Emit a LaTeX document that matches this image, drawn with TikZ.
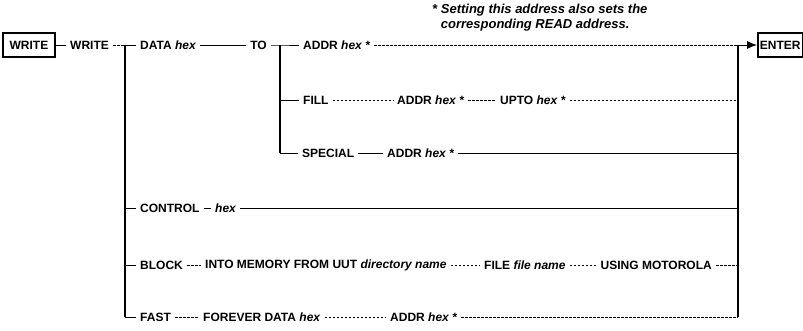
\documentclass[tikz,border=0pt]{standalone}
\usepackage{fontspec}
\setmainfont{Liberation Sans}
\usetikzlibrary{arrows.meta,positioning}

\begin{document}
\begin{tikzpicture}[
  x=1pt, y=-1pt,
  font={\fontsize{12}{14}\selectfont\bfseries},
  word/.style={inner xsep=4pt, inner ysep=1pt, anchor=west},
  keybox/.style={draw, line width=1.8pt, inner xsep=3pt, minimum height=24pt},
  rule/.style={line width=0.9pt},
  dotrule/.style={line width=0.9pt, dash pattern=on 2.5pt off 1.5pt},
  rail/.style={line width=1.8pt},
]
\useasboundingbox (0,0) rectangle (803,331);
\node[keybox, minimum width=52pt] (wbox) at (29,45) {WRITE};
\node[word] (wtxt) at (66,45) {WRITE};
\coordinate (ja) at (125,45);
\node[word] (data) at (136,45) {DATA \textit{hex}};
\node[word, anchor=east] (to) at (271,45) {TO};
\coordinate (jb) at (280,45);
\node[word] (addra) at (299,45) {ADDR \textit{hex} *};
\coordinate (jc) at (738,45);
\node[keybox, inner xsep=2pt, anchor=west] (enter) at (757,45) {ENTER};
\node[word, anchor=north west, align=left, font={\fontsize{13}{15}\selectfont\bfseries\itshape}] (note) at (428,3)
  {* Setting this address also sets the\\\hphantom{* }corresponding READ address.};

\node[word] (fill) at (299,100) {FILL};
\node[word] (addrb) at (393,100) {ADDR \textit{hex} *};
\node[word] (upto) at (496,100) {UPTO \textit{hex} *};

\node[word] (special) at (298,153) {SPECIAL};
\node[word] (addrc) at (383,153) {ADDR \textit{hex} *};

\node[word] (control) at (136,208) {CONTROL};
\node[word] (hexd) at (211,208) {\textit{hex}};

\node[word] (block) at (136,265) {BLOCK};
\node[word] (into) at (201,265) {INTO MEMORY FROM UUT \textit{directory name}};
\node[word] (file) at (480,265) {FILE \textit{file name}};
\node[word, anchor=east] (using) at (716,265) {USING MOTOROLA};

\node[word] (fast) at (136,317) {FAST};
\node[word] (forever) at (199,317) {FOREVER DATA \textit{hex}};
\node[word] (addre) at (386,317) {ADDR \textit{hex} *};

\draw[rule] (wbox) -- (wtxt);
\draw[dotrule] (wtxt) -- (ja);
\draw[rule] (ja) -- (data);
\draw[rule] (data) -- (to);
\draw[rule] (to) -- (jb) -- (addra);
\draw[dotrule] (addra) -- (jc);
\draw[rule, -{Latex[length=10pt,width=8pt]}] (jc) -- (enter);

\draw[rail] (ja) -- (ja |- fast);
\draw[rule] (ja |- control) -- (control);
\draw[rule] (ja |- block) -- (block);
\draw[rule] (ja |- fast) -- (fast);

\draw[rail] (jb) -- (jb |- special);
\draw[rule] (jb |- fill) -- (fill);
\draw[rule] (jb |- special) -- (special);

\draw[rail] (jc) -- (jc |- fast);

\draw[dotrule] (fill) -- (addrb) -- (upto) -- (upto -| jc);
\draw[rule] (special) -- (addrc) -- (addrc -| jc);
\draw[rule] (control) -- (hexd) -- (hexd -| jc);
\draw[dotrule] (block) -- (into) -- (file) -- (using) -- (using -| jc);
\draw[dotrule] (fast) -- (forever) -- (addre) -- (addre -| jc);
\end{tikzpicture}
\end{document}
